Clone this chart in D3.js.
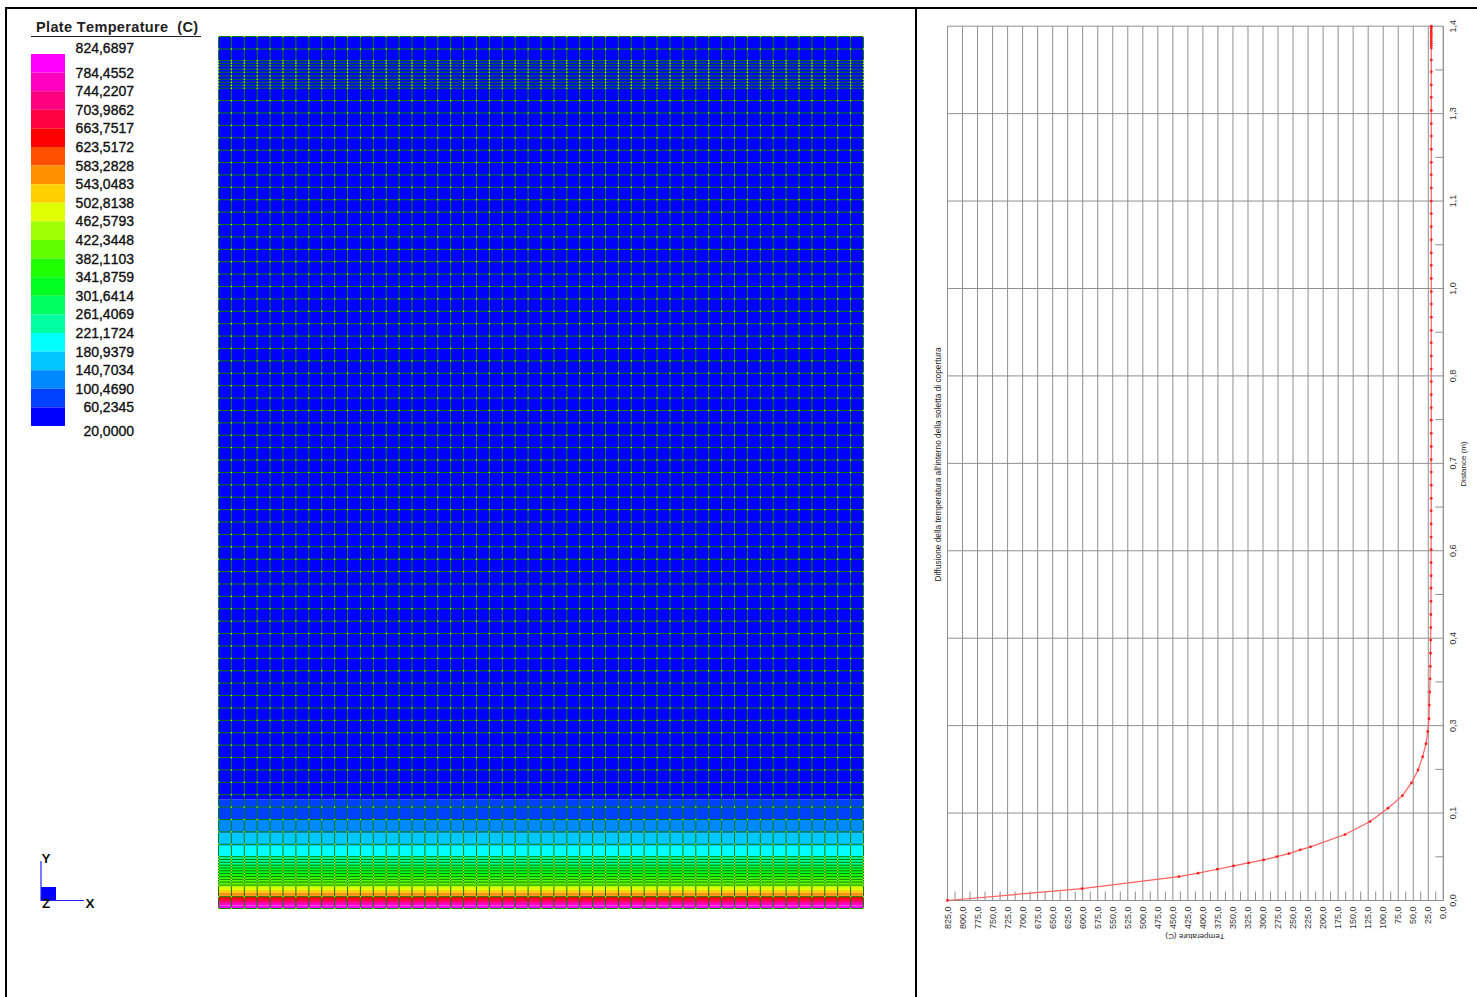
<!DOCTYPE html>
<html lang="en">
  <head>
    <meta charset="utf-8">
    <title>Plate Temperature</title>
    <script src="https://cdnjs.cloudflare.com/ajax/libs/d3/7.8.5/d3.min.js"></script>
    <style type="text/css">
      html, body { margin: 0; padding: 0; background: #fff; overflow: hidden; }
      svg { display: block; }
      text { font-family: "Liberation Sans", Arial, sans-serif; font-kerning: none; }
    </style>
  </head>
  <body>
    <script type="text/javascript">
    // Legend
    var legendLabels = ["824,6897","784,4552","744,2207","703,9862","663,7517","623,5172","583,2828",
      "543,0483","502,8138","462,5793","422,3448","382,1103","341,8759","301,6414","261,4069",
      "221,1724","180,9379","140,7034","100,4690","60,2345","20,0000"];
    var legendColors = ["#ff00ff","#ff00c0","#ff0080","#ff0040","#ff0000","#ff5000","#ff9000","#ffd000",
      "#e0ff00","#a0ff00","#60ff00","#20ff00","#00ff20","#00ff60","#00ffa0","#00ffff","#00c8ff",
      "#0088ff","#0040ff","#0000ff"];

    // Plate: upper distance (m) of each colour band, same order as legendColors
    var bandTops = [0.0048,0.0088,0.012,0.0153,0.0189,0.0209,0.0257,0.0297,0.0345,0.0393,0.049,
      0.057,0.065,0.0714,0.0832,0.1003,0.121,0.1425,0.175,1.4];

    // Plate mesh: row edges (m)
    var rowEdges = [0,0.0189,0.0377,0.0424,0.0469,0.0514,0.056,0.0605,0.065,0.0695,0.0742,0.0787,0.0832,
      0.1031,0.123,0.1429,0.1628,0.1827,0.2026,0.2225,0.2424,0.2623,0.2822,0.3021,0.322,0.3419,0.3618,
      0.3817,0.4016,0.4215,0.4414,0.4613,0.4812,0.5011,0.521,0.5409,0.5608,0.5807,0.6006,0.6205,0.6404,
      0.6603,0.6802,0.7001,0.72,0.7399,0.7598,0.7797,0.7996,0.8195,0.8394,0.8593,0.8792,0.8991,0.919,
      0.9389,0.9588,0.9787,0.9986,1.0185,1.0384,1.0583,1.0782,1.0981,1.118,1.1379,1.1578,1.1777,1.1976,
      1.2175,1.2374,1.2573,1.2772,1.2971,1.317,1.3218,1.3266,1.3314,1.3367,1.3427,1.3475,1.3528,1.3571,
      1.3612,1.3799,1.4];
    var plateColumns = 50;

    // Right chart: temperature profile
    var distM = [0,0.019,0.0383,0.0437,0.0501,0.0554,0.0602,0.065,0.0703,0.0751,0.0811,0.0859,0.1056,
      0.1264,0.1478,0.168,0.1883,0.209,0.23,0.251,0.2705,0.291,0.313,0.334,0.355,0.375,0.396,0.417,
      0.437,0.458,0.479,0.5,0.52,0.541,0.562,0.582,0.603,0.624,0.644,0.665,0.686,0.706,0.727,0.748,
      0.769,0.789,0.81,0.831,0.851,0.872,0.893,0.913,0.934,0.955,0.975,0.996,1.017,1.037,1.058,1.079,
      1.1,1.12,1.141,1.162,1.182,1.203,1.224,1.244,1.265,1.286,1.306,1.327,1.346,1.3652,1.369,1.3725,
      1.376,1.38,1.3835,1.387,1.3905,1.394,1.3975,1.4];
    var tempC = [825,601,440,408,376,349,324,299,277,257,238,221,163.5,122,92,68,53,42,34.4,28.8,26,
      23.8,23.3,22.6,22,21.6,21.3,21,20.8,20.6,20.5,20.4,20.3,20.3,20.2,20.2,20.2,20.1,20.1,20.1,20.1,
      20.1,20,20,20,20,20,20,20,20,20,20,20,20,20,20,20,20,20,20,20,20,20,20,20,20,20,20,20,20,20,20,
      20,20,20,20,20,20,20,20,20,20,20,20];
    var tempTicks = [825,800,775,750,725,700,675,650,625,600,575,550,525,500,475,450,425,400,375,350,
      325,300,275,250,225,200,175,150,125,100,75,50,25,0];
    var tempMinor = [812.5,787.5,762.5,737.5,712.5,687.5,662.5,637.5,612.5,587.5,562.5,537.5,512.5,
      487.5,462.5,437.5,412.5,387.5,362.5,337.5,312.5,287.5,262.5,237.5,212.5,187.5,162.5,137.5,112.5,
      87.5,62.5,37.5,12.5];
    var distTicks = [0,0.14,0.28,0.42,0.56,0.7,0.84,0.98,1.12,1.26,1.4];
    var distMinor = [0.07,0.21,0.35,0.49,0.63,0.77,0.91,1.05,1.19,1.33];

    var w = 1477;
    var h = 997;
    var svg = d3.select("body").append("svg").attr("width", w).attr("height", h);
    var it = d3.formatLocale({decimal: ",", thousands: ".", grouping: [3], currency: ["", ""]});

    // Window frame
    svg.append("rect").attr("x", 5).attr("y", 7).attr("width", w - 5).attr("height", 2).attr("fill", "#000");
    svg.append("rect").attr("x", 5).attr("y", 7).attr("width", 2).attr("height", h - 7).attr("fill", "#000");
    svg.append("rect").attr("x", 915).attr("y", 7).attr("width", 2).attr("height", h - 7).attr("fill", "#000");

    // Legend
    svg.append("text").attr("x", 36).attr("y", 32).attr("font-size", "14.5px").attr("font-weight", "bold")
       .attr("fill", "#222").attr("letter-spacing", 0.35)
       .attr("xml:space", "preserve").style("white-space", "pre")
       .text("Plate Temperature  (C)");
    svg.append("line").attr("x1", 31).attr("x2", 201).attr("y1", 36.5).attr("y2", 36.5)
       .attr("stroke", "#222");

    var legendY = d3.scaleBand().domain(d3.range(legendColors.length)).range([54, 426]);
    svg.selectAll("rect.swatch")
       .data(legendColors)
       .enter()
       .append("rect")
       .attr("class", "swatch")
       .attr("x", 31)
       .attr("y", function(d, i) { return legendY(i); })
       .attr("width", 34)
       .attr("height", legendY.bandwidth())
       .attr("fill", function(d) { return d; });

    svg.selectAll("text.legendLabel")
       .data(legendLabels)
       .enter()
       .append("text")
       .attr("class", "legendLabel")
       .attr("x", 134)
       .attr("y", function(d, i) {
          var off = i == 0 ? -6 : (i == legendLabels.length - 1 ? 5 : 0);
          return 54 + i * legendY.bandwidth() + off + 5;
        })
       .attr("text-anchor", "end")
       .attr("font-size", "14px")
       .attr("fill", "#111")
       .attr("stroke", "#111")
       .attr("stroke-width", 0.35)
       .text(function(d) { return d; });

    // Plate
    var px = d3.scaleLinear().domain([0, plateColumns]).range([218.5, 863.5]);
    var py = d3.scaleLinear().domain([0, 1.4]).range([908.5, 36.5]);
    var colEdges = d3.range(plateColumns + 1);

    var plate = svg.append("g");
    plate.selectAll("rect.band")
       .data(bandTops)
       .enter()
       .append("rect")
       .attr("class", "band")
       .attr("x", px(0))
       .attr("width", px(plateColumns) - px(0))
       .attr("y", function(d) { return py(d); })
       .attr("height", function(d, i) { return py(i == 0 ? 0 : bandTops[i - 1]) - py(d); })
       .attr("fill", function(d, i) { return legendColors[i]; });

    plate.selectAll("line.row")
       .data(rowEdges)
       .enter()
       .append("line")
       .attr("class", "row")
       .attr("x1", px(0)).attr("x2", px(plateColumns))
       .attr("y1", function(d) { return py(d); })
       .attr("y2", function(d) { return py(d); })
       .attr("stroke", "#008000");

    plate.selectAll("line.col")
       .data(colEdges)
       .enter()
       .append("line")
       .attr("class", "col")
       .attr("y1", py(0)).attr("y2", py(1.4))
       .attr("x1", function(d) { return px(d); })
       .attr("x2", function(d) { return px(d); })
       .attr("stroke", "#008000");

    // yellow mesh nodes
    var nodes = [];
    rowEdges.forEach(function(r) {
      colEdges.forEach(function(c) { nodes.push([c, r]); });
    });
    plate.selectAll("rect.node")
       .data(nodes)
       .enter()
       .append("rect")
       .attr("class", "node")
       .attr("x", function(d) { return px(d[0]) - 0.6; })
       .attr("y", function(d) { return py(d[1]) - 0.6; })
       .attr("width", 1.2)
       .attr("height", 1.2)
       .attr("fill", "#e6ff20");

    // Axis triad
    var triad = svg.append("g");
    triad.append("rect").attr("x", 41).attr("y", 887).attr("width", 15).attr("height", 14).attr("fill", "#0000ff");
    triad.append("line").attr("x1", 41).attr("x2", 41).attr("y1", 861).attr("y2", 901).attr("stroke", "#2020ff").attr("stroke-width", 1.2);
    triad.append("line").attr("x1", 41).attr("x2", 84).attr("y1", 900.5).attr("y2", 900.5).attr("stroke", "#2020ff").attr("stroke-width", 1.2);
    [["Y", 46, 863], ["Z", 46, 908], ["X", 90, 908]].forEach(function(t) {
      triad.append("text").attr("x", t[1]).attr("y", t[2]).attr("text-anchor", "middle")
           .attr("font-size", "13.5px").attr("font-weight", "bold").attr("fill", "#111").text(t[0]);
    });

    // Right chart
    var x = d3.scaleLinear().domain([825, 0]).range([947.5, 1443.3]);
    var y = d3.scaleLinear().domain([0, 1.4]).range([900.5, 26.2]);
    var chartH = y(0) - y(1.4);
    var chartW = x(0) - x(825);
    var gridGrey = "#8f8f8f";

    var xAxis = d3.axisBottom(x).tickValues(tempTicks).tickSize(-chartH).tickSizeOuter(0).offset(0)
                  .tickFormat(it.format(".1f"));
    var gx = svg.append("g").attr("transform", "translate(0," + y(0) + ")").call(xAxis);
    gx.selectAll("text")
      .attr("transform", "rotate(-90)")
      .attr("text-anchor", "end")
      .attr("x", -6)
      .attr("y", 0)
      .attr("dy", "0.35em")
      .attr("font-size", "9px")
      .attr("font-family", "Liberation Sans")
      .attr("fill", "#333");

    var yAxis = d3.axisRight(y).tickValues(distTicks).tickSize(-chartW).tickSizeOuter(0).offset(0)
                  .tickFormat(it.format(".1f"));
    var gy = svg.append("g").attr("transform", "translate(" + x(0) + ",0)").call(yAxis);
    gy.selectAll("text")
      .attr("transform", "translate(9.5,0) rotate(-90)")
      .attr("text-anchor", "middle")
      .attr("x", 0)
      .attr("y", 0)
      .attr("dy", "0.35em")
      .attr("font-size", "9px")
      .attr("font-family", "Liberation Sans")
      .attr("fill", "#333");
    svg.selectAll(".tick line, .domain").attr("stroke", gridGrey);

    svg.selectAll("line.xMinor")
       .data(tempMinor)
       .enter()
       .append("line")
       .attr("class", "xMinor")
       .attr("x1", function(d) { return x(d); })
       .attr("x2", function(d) { return x(d); })
       .attr("y1", y(0))
       .attr("y2", y(0) - 9)
       .attr("stroke", gridGrey);

    svg.selectAll("line.yMinor")
       .data(distMinor)
       .enter()
       .append("line")
       .attr("class", "yMinor")
       .attr("y1", function(d) { return y(d); })
       .attr("y2", function(d) { return y(d); })
       .attr("x1", x(0))
       .attr("x2", x(0) - 8)
       .attr("stroke", gridGrey);

    var profile = d3.line()
       .x(function(d) { return x(d[0]); })
       .y(function(d) { return y(d[1]); });
    var points = d3.zip(tempC, distM);
    svg.append("path").datum(points).attr("d", profile).attr("fill", "none")
       .attr("stroke", "#ff6060").attr("stroke-width", 1.2);
    svg.selectAll("circle.pt")
       .data(points)
       .enter()
       .append("circle")
       .attr("class", "pt")
       .attr("cx", function(d) { return x(d[0]); })
       .attr("cy", function(d) { return y(d[1]); })
       .attr("r", 1.4)
       .attr("fill", "#ff2020");

    // Chart captions
    svg.append("text").attr("transform", "translate(941,464.5) rotate(-90)").attr("text-anchor", "middle")
       .attr("font-size", "8.3px").attr("fill", "#222")
       .text("Diffusione della temperatura all'interno della soletta di copertura");
    svg.append("text").attr("transform", "translate(1466,464) rotate(-90)").attr("text-anchor", "middle")
       .attr("font-size", "8px").attr("fill", "#222")
       .text("Distance (m)");
    svg.append("text").attr("transform", "translate(1195,934) rotate(180)").attr("text-anchor", "middle")
       .attr("font-size", "8px").attr("fill", "#222")
       .text("Temperature (C)");
    </script>
  </body>
</html>
